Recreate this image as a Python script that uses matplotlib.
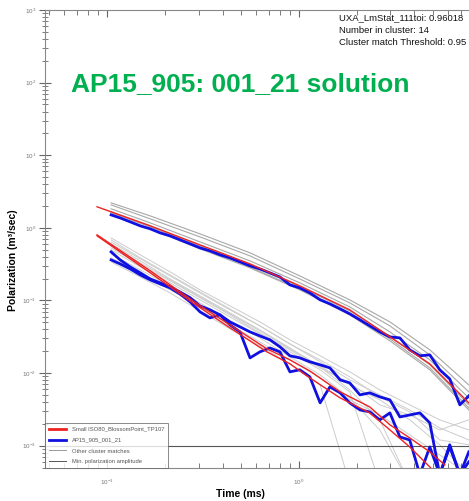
import matplotlib
matplotlib.use("Agg")
import matplotlib.pyplot as plt
from matplotlib.ticker import LogLocator, NullFormatter
import numpy as np

plt.rcParams['font.family'] = ['Liberation Sans', 'DejaVu Sans']

# time gates (ms)
t_gates = [0.105, 0.117, 0.132, 0.149, 0.168, 0.189, 0.213, 0.240, 0.271, 0.305,
           0.344, 0.388, 0.437, 0.493, 0.556, 0.626, 0.706, 0.796, 0.898, 1.01,
           1.14, 1.29, 1.45, 1.64, 1.84, 2.08, 2.34, 2.64, 2.98, 3.36,
           3.78, 4.27, 4.81, 5.42, 6.11, 6.90, 7.68]

# AP15_905_001_21 (blue) - three polarizabilities
blue_l1 = [1.51, 1.37, 1.21, 1.065, 0.969, 0.853, 0.776, 0.684, 0.602, 0.530,
           0.482, 0.425, 0.386, 0.340, 0.300, 0.272, 0.240, 0.211, 0.164, 0.149,
           0.127, 0.102, 0.0898, 0.0766, 0.0654, 0.0541, 0.0447, 0.0369, 0.0315, 0.0305,
           0.0209, 0.0173, 0.0178, 0.0111, 0.00832, 0.00365, 0.00485]
blue_l2 = [0.467, 0.362, 0.290, 0.240, 0.198, 0.175, 0.154, 0.131, 0.109, 0.0843,
           0.0743, 0.0633, 0.0507, 0.0433, 0.0369, 0.0325, 0.0287, 0.0230, 0.0173, 0.0162,
           0.0143, 0.0130, 0.0118, 0.00805, 0.00733, 0.00501, 0.00534, 0.00470, 0.00428, 0.00249,
           0.00265, 0.00283, 0.00206, 0.0004, 0.00103, 0.0004, 0.000822]
blue_l3 = [0.362, 0.319, 0.272, 0.225, 0.192, 0.169, 0.149, 0.123, 0.0957, 0.0697,
           0.0576, 0.0633, 0.0461, 0.0369, 0.0162, 0.0196, 0.0222, 0.0196, 0.0104, 0.0111,
           0.00887, 0.00389, 0.00645, 0.00534, 0.00389, 0.00311, 0.00292, 0.00227, 0.00283, 0.00132,
           0.00120, 0.0004, 0.000962, 0.0004, 0.000962, 0.0004, 0.000598]

# Small ISO80_BlossomPoint_TP107 (red)
t_red1 = [0.0887, 0.168, 0.305, 0.556, 1.01, 1.84, 2.98, 4.81, 7.68]
red_l1 = [1.95, 1.065, 0.583, 0.319, 0.159, 0.0743, 0.0315, 0.0134, 0.00389]
t_red2 = [0.0887, 0.168, 0.280, 0.437, 0.681, 0.898, 1.14, 1.64, 2.34, 2.98, 3.78, 4.81, 5.76]
red_l2 = [0.801, 0.256, 0.0987, 0.0461, 0.0216, 0.0152, 0.0107, 0.00551, 0.00342, 0.00194,
          0.00128, 0.000822, 0.000544]
red_l3 = [0.776, 0.240, 0.0927, 0.0420, 0.0196, 0.0134, 0.00859, 0.00455, 0.00283, 0.00165,
          0.000962, 0.000510, 0.000288]

# other cluster matches (gray)
t_gray1 = [0.105, 0.168, 0.305, 0.556, 1.01, 1.84, 2.98, 4.81, 7.68]
gray_l1 = [
    [2.21, 1.46, 0.827, 0.453, 0.218, 0.102, 0.0507, 0.0209, 0.00688],
    [2.07, 1.33, 0.751, 0.411, 0.198, 0.0927, 0.0447, 0.0178, 0.00551],
    [1.83, 1.17, 0.641, 0.351, 0.175, 0.0816, 0.0369, 0.0152, 0.00455],
    [1.66, 1.065, 0.565, 0.309, 0.154, 0.0719, 0.0325, 0.0130, 0.00365],
    [1.51, 0.969, 0.514, 0.281, 0.140, 0.0633, 0.0278, 0.0111, 0.00311],
    [1.61, 1.03, 0.548, 0.290, 0.144, 0.0675, 0.0296, 0.0118, 0.00332],
]
t_gray2 = [0.105, 0.149, 0.213, 0.305, 0.437, 0.626, 0.898, 1.29, 1.84, 2.64, 3.78, 5.42, 7.68]
gray_l23 = [
    [0.728, 0.425, 0.248, 0.140, 0.0843, 0.0507, 0.0287, 0.0173, 0.0104, 0.00587, 0.00365, 0.00227, 0.00165],
    [0.641, 0.374, 0.218, 0.127, 0.0743, 0.0447, 0.0252, 0.0143, 0.00805, 0.00501, 0.00311, 0.00176, 0.00120],
    [0.565, 0.330, 0.192, 0.112, 0.0654, 0.0381, 0.0216, 0.0126, 0.00688, 0.00428, 0.00227, 0.00103, 0.0004],
    [0.498, 0.290, 0.175, 0.102, 0.0594, 0.0347, 0.0196, 0.0111, 0.00551, 0.0003, 0.0003, 0.0003, 0.0003],
    [0.438, 0.264, 0.159, 0.0927, 0.0524, 0.0305, 0.0167, 0.00945, 0.00455, 0.00165, 0.0003, 0.0003, 0.0003],
    [0.386, 0.232, 0.140, 0.0816, 0.0461, 0.0269, 0.0152, 0.00859, 0.00428, 0.00265, 0.00141, 0.000747, 0.0004],
    [0.340, 0.211, 0.127, 0.0719, 0.0406, 0.0237, 0.0134, 0.00688, 0.0003, 0.0003, 0.0003, 0.0003, 0.0003],
    [0.684, 0.386, 0.225, 0.131, 0.0766, 0.0447, 0.0252, 0.0152, 0.00887, 0.00470, 0.00292, 0.00120, 0.00103],
    [0.530, 0.309, 0.186, 0.109, 0.0633, 0.0358, 0.0209, 0.0118, 0.00733, 0.00365, 0.00265, 0.00165, 0.00227],
    [0.602, 0.351, 0.198, 0.116, 0.0675, 0.0394, 0.0222, 0.0122, 0.00587, 0.00227, 0.0003, 0.0003, 0.0003],
]
min_amp = 1e-3

info_lines = ["UXA_LmStat_111toi: 0.96018", "Number in cluster: 14", "Cluster match Threshold: 0.95"]

fig = plt.figure(figsize=(4.69, 5.01), dpi=100)
ax = fig.add_axes([0.096, 0.066, 0.904, 0.914])

for g in gray_l1:
    ax.plot(t_gray1, g, color="#a8a8a8", lw=0.8, zorder=1)
for g in gray_l23:
    ax.plot(t_gray2, g, color="#cccccc", lw=0.7, zorder=1)
ax.axhline(min_amp, color="#555555", lw=0.8, zorder=1)

for b in (blue_l1, blue_l2, blue_l3):
    ax.plot(t_gates, b, color="#1010e0", lw=2.0, zorder=2)
ax.plot(t_red1, red_l1, color="#ee2222", lw=1.0, zorder=3)
ax.plot(t_red2, red_l2, color="#ee2222", lw=1.0, zorder=3)
ax.plot(t_red2, red_l3, color="#ee2222", lw=1.0, zorder=3)

ax.set_xscale("log")
ax.set_yscale("log")
ax.set_xlim(0.0475, 7.7)
ax.set_ylim(4.94e-4, 1e3)

ax.yaxis.set_minor_locator(LogLocator(base=10, subs=np.arange(2, 10), numticks=100))
ax.xaxis.set_minor_locator(LogLocator(base=10, subs=np.arange(2, 10), numticks=100))
ax.yaxis.set_minor_formatter(NullFormatter())
ax.xaxis.set_minor_formatter(NullFormatter())
ax.tick_params(axis="y", which="major", direction="inout", length=9, width=0.8, color="#666666",
               labelsize=4.5, labelcolor="#777777", pad=2)
ax.tick_params(axis="y", which="minor", direction="inout", length=5, width=0.6, color="#666666")
ax.tick_params(axis="x", which="major", direction="in", length=5, width=0.8, color="#666666",
               labelsize=4.5, labelcolor="#777777", pad=7, top=True)
ax.tick_params(axis="x", which="minor", direction="in", length=3.5, width=0.6, color="#666666", top=True)
for s in ("left", "bottom", "top"):
    ax.spines[s].set_color("#888888")
    ax.spines[s].set_linewidth(0.8)
ax.spines["right"].set_visible(False)

ax.set_ylabel("Polarization (m³/sec)", fontsize=7.5, fontweight="bold")
ax.yaxis.set_label_coords(-0.064, 0.454)
ax.set_xlabel("Time (ms)", fontsize=7.5, fontweight="bold")
ax.xaxis.set_label_coords(0.46, -0.045)

ax.text(0.062, 0.838, "AP15_905: 001_21 solution", transform=ax.transAxes, color="#00b050",
        fontsize=19, fontweight="bold", va="center", ha="left")
for i, line in enumerate(info_lines):
    ax.text(0.693, 0.993 - i * 0.027, line, transform=ax.transAxes, fontsize=6.8,
            va="top", ha="left", color="#111111")

handles = [
    plt.Line2D([], [], color="#ee2222", lw=2),
    plt.Line2D([], [], color="#1010e0", lw=2),
    plt.Line2D([], [], color="#999999", lw=0.7),
    plt.Line2D([], [], color="#555555", lw=0.7),
]
labels = ["Small ISO80_BlossomPoint_TP107", "AP15_905_001_21", "Other cluster matches",
          "Min. polarization amplitude"]
leg = ax.legend(handles, labels, loc="lower left", bbox_to_anchor=(0, 0), borderaxespad=0,
                fontsize=4.2, frameon=True, fancybox=False, handlelength=3, handletextpad=1,
                labelspacing=1.0, borderpad=0.6, labelcolor="#555555")
leg.get_frame().set_edgecolor("#555555")
leg.get_frame().set_linewidth(0.6)

fig.savefig("out.png", dpi=100)
